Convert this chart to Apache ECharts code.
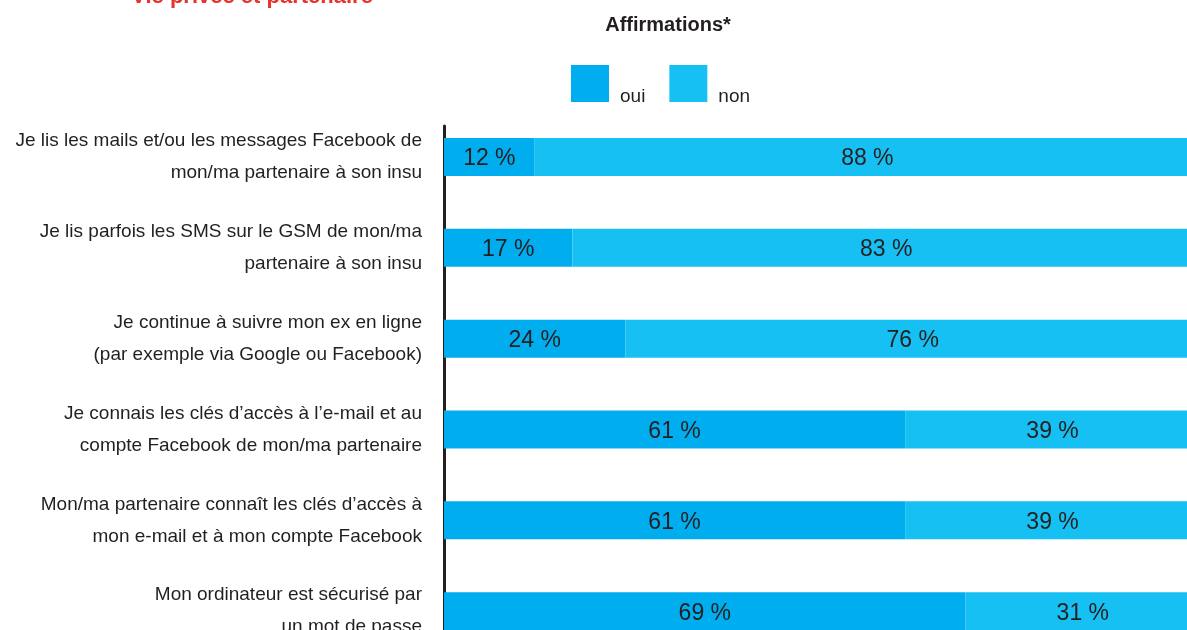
<!DOCTYPE html>
<html>
<head>
<meta charset="utf-8">
<script src="https://cdn.jsdelivr.net/npm/echarts@6/dist/echarts.min.js"></script>
<style>
  html, body { margin: 0; padding: 0; background: #fff; }
  #main { width: 1187px; height: 630px; }
</style>
</head>
<body>
<div id="main"></div>
<script>
// affirmations (une ligne par barre)
var categories = [
  'Je lis les mails et/ou les messages Facebook de\nmon/ma partenaire à son insu',
  'Je lis parfois les SMS sur le GSM de mon/ma\npartenaire à son insu',
  'Je continue à suivre mon ex en ligne\n(par exemple via Google ou Facebook)',
  'Je connais les clés d’accès à l’e-mail et au\ncompte Facebook de mon/ma partenaire',
  'Mon/ma partenaire connaît les clés d’accès à\nmon e-mail et à mon compte Facebook',
  'Mon ordinateur est sécurisé par\nun mot de passe'
];
var ouiValues = [12, 17, 24, 61, 61, 69];
var nonValues = [88, 83, 76, 39, 39, 31];

var textColor = '#231f20';
var font = "'Liberation Sans', Arial, sans-serif";

var chart = echarts.init(document.getElementById('main'));

var valueLabel = {
  show: true,
  position: 'inside',
  formatter: '{c} %',
  color: textColor,
  fontFamily: font,
  fontSize: 23,
  offset: [0, 2]
};

chart.setOption({
  animation: false,
  title: [{
    text: 'Vie privée et partenaire',
    left: 247,
    textAlign: 'center',
    top: -19,
    textStyle: { color: '#e8322c', fontSize: 22, fontWeight: 'bold', fontFamily: font }
  }, {
    text: 'Affirmations*',
    left: 663,
    textAlign: 'center',
    top: 10,
    textStyle: { color: textColor, fontSize: 20, fontWeight: 'bold', fontFamily: font }
  }],
  legend: {
    left: 571,
    top: 65,
    padding: 0,
    icon: 'rect',
    itemWidth: 38,
    itemHeight: 37,
    itemGap: 24,
    formatter: function (name) { return '{t|' + name + '}'; },
    textStyle: {
      color: textColor,
      fontSize: 19,
      fontFamily: font,
      rich: { t: { color: textColor, fontSize: 19, fontFamily: font, padding: [26, 0, 0, 6] } }
    },
    data: ['oui', 'non']
  },
  grid: [
    { left: 444, top: 111.6, width: 756, height: 545, outerBoundsMode: 'none' },
    { left: 444, top: 126, width: 756, height: 540, outerBoundsMode: 'none' }
  ],
  xAxis: [
    { type: 'value', gridIndex: 0, min: 0, max: 100, show: false },
    { type: 'value', gridIndex: 1, show: false }
  ],
  yAxis: [{
    type: 'category',
    gridIndex: 0,
    inverse: true,
    data: categories,
    axisLine: { show: false },
    axisTick: { show: false },
    axisLabel: {
      color: textColor,
      fontFamily: font,
      fontSize: 19,
      lineHeight: 32,
      align: 'right',
      margin: 22
    }
  }, {
    type: 'value',
    gridIndex: 1,
    axisLine: { show: true, lineStyle: { color: textColor, width: 3 } },
    axisTick: { show: false },
    axisLabel: { show: false },
    splitLine: { show: false }
  }],
  series: [{
    name: 'oui',
    type: 'bar',
    stack: 'total',
    barWidth: 38,
    itemStyle: { color: '#00aeef' },
    label: valueLabel,
    data: ouiValues
  }, {
    name: 'non',
    type: 'bar',
    stack: 'total',
    barWidth: 38,
    itemStyle: { color: '#17c0f2' },
    label: valueLabel,
    data: nonValues
  }]
});
</script>
</body>
</html>
